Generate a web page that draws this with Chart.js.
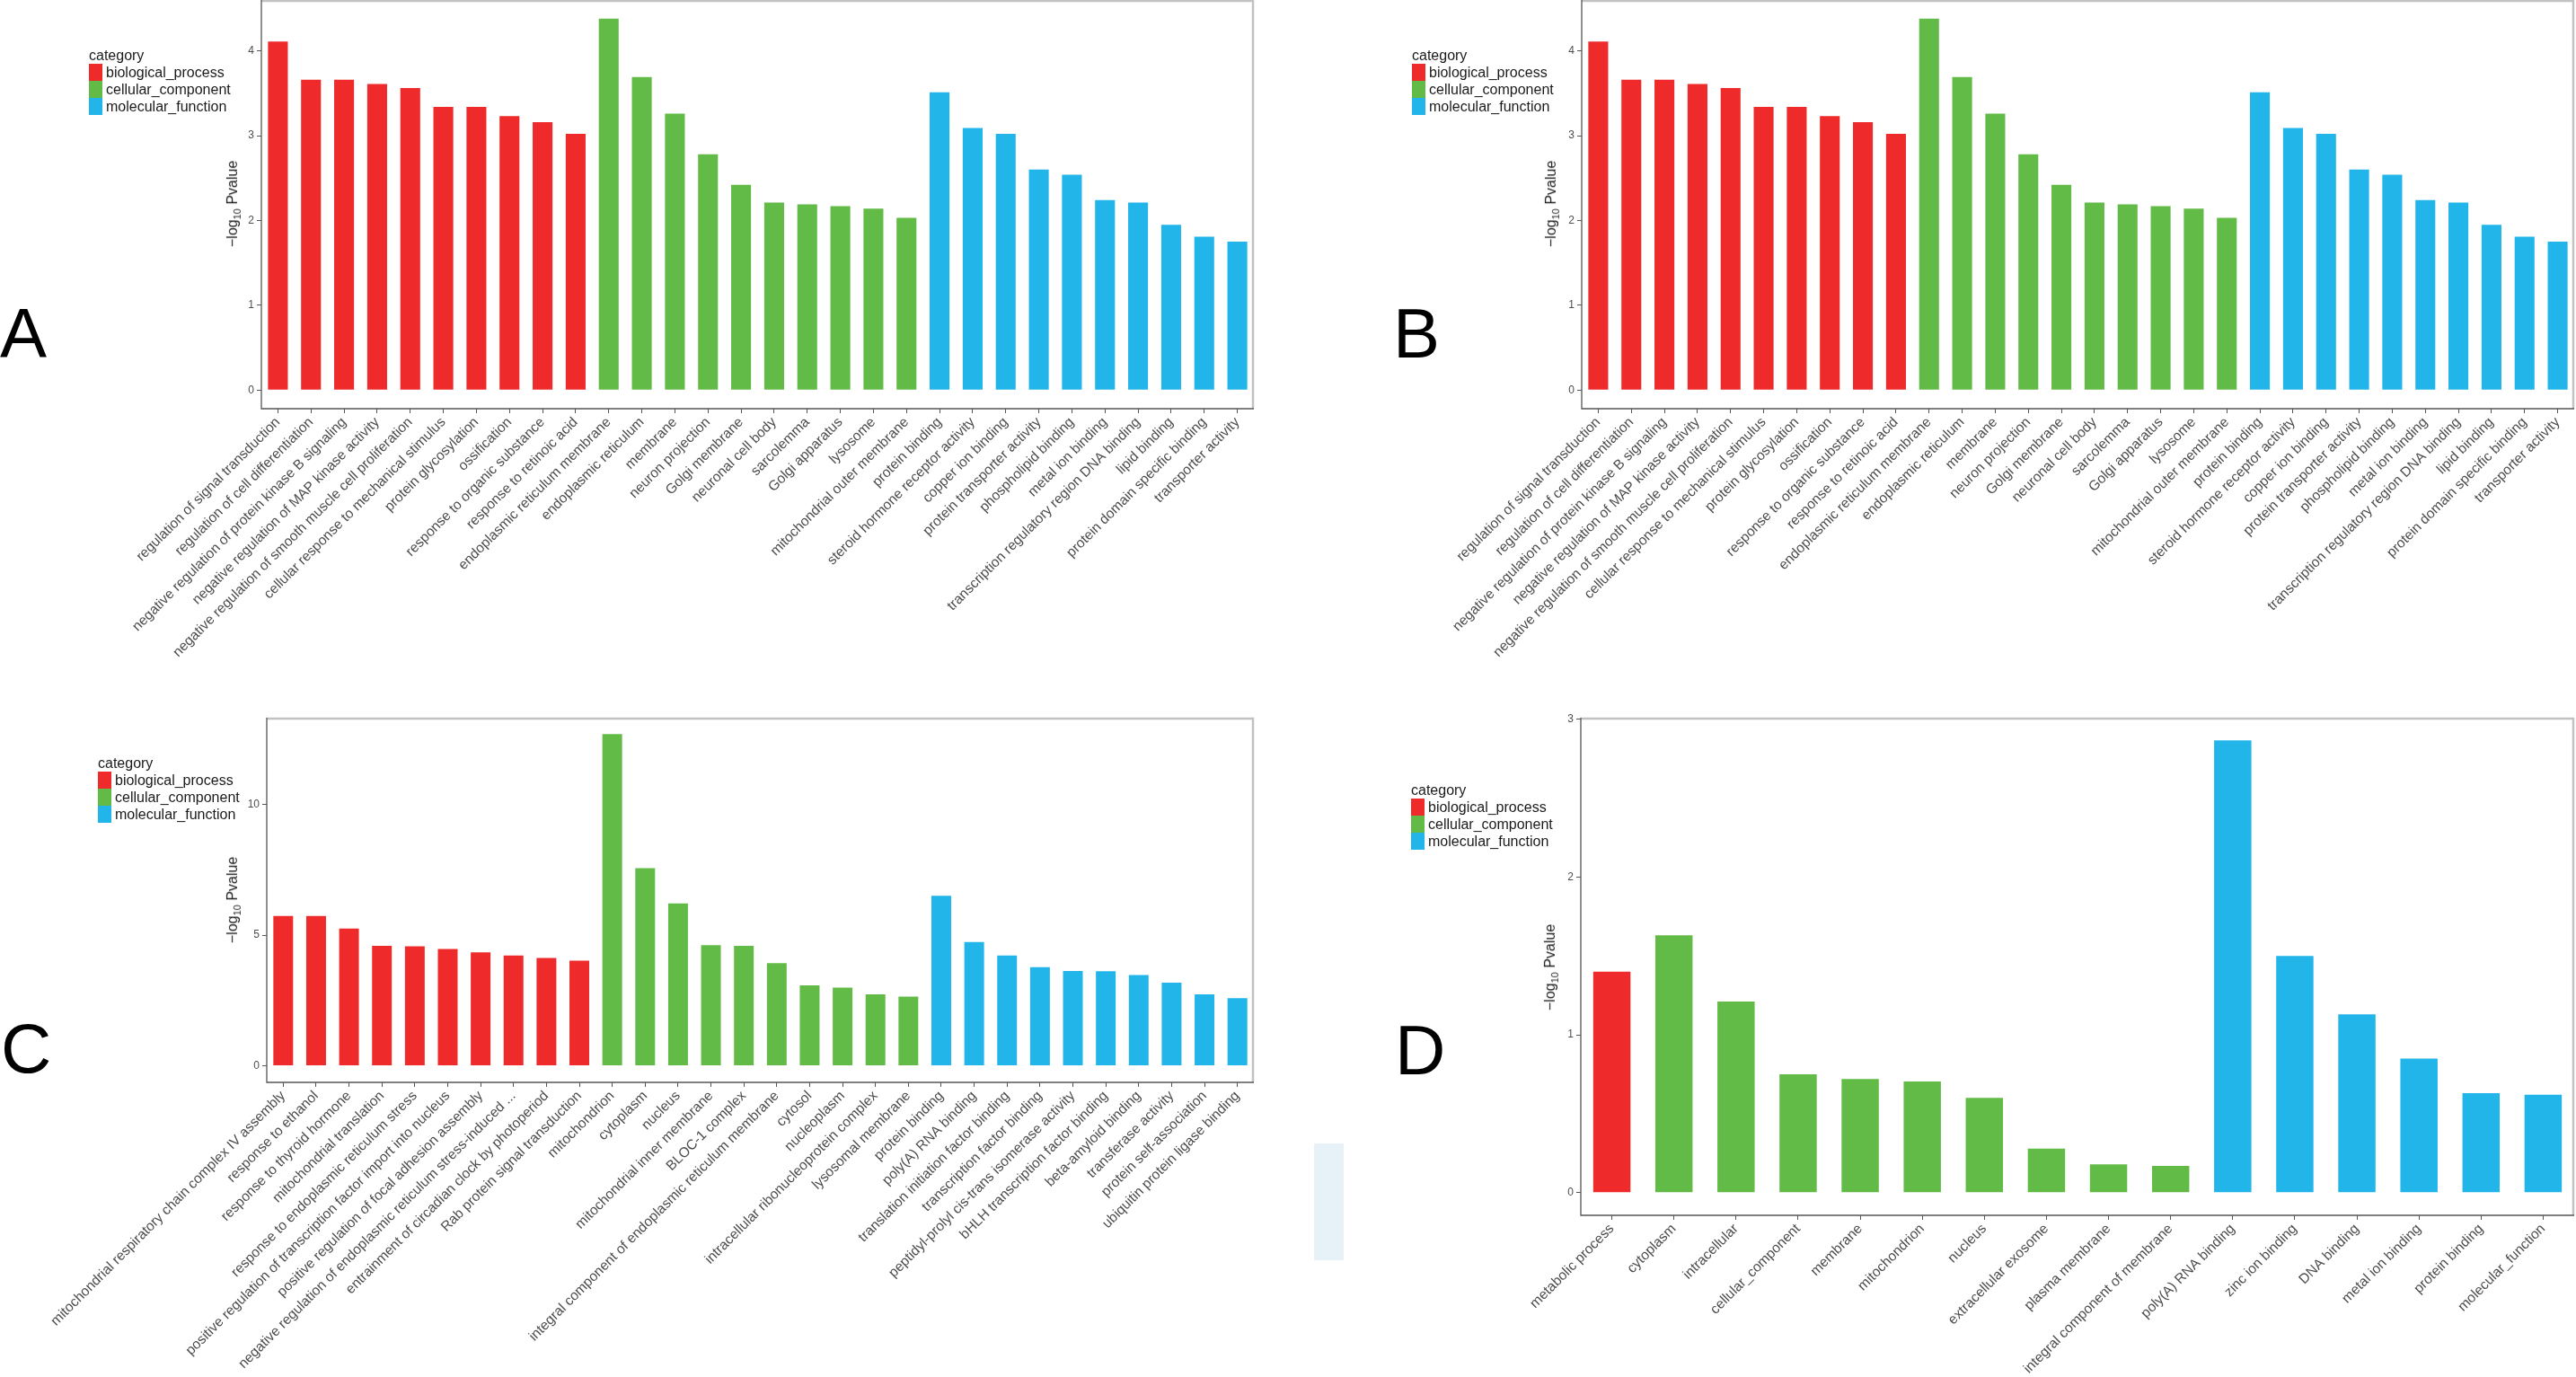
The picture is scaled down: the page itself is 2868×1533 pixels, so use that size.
<!DOCTYPE html>
<html>
<head>
<meta charset="utf-8">
<script src="https://cdn.jsdelivr.net/npm/chart.js@4.4.1/dist/chart.umd.min.js"></script>
<style>
  html, body { margin: 0; padding: 0; background: #fff; }
  body { width: 2868px; height: 1533px; position: relative; overflow: hidden;
         font-family: "Liberation Sans", Arial, sans-serif; }
  canvas { position: absolute; }
  .legend { position: absolute; font-size: 16px; color: #1a1a1a; }
  .legend .ttl { height: 18px; line-height: 18px; }
  .legend .row { height: 19px; line-height: 19px; display: flex; align-items: center; }
  .legend .key { width: 15px; height: 19px; margin-right: 4px; }
  .ytitle { position: absolute; font-size: 16px; color: #1a1a1a; white-space: nowrap;
            transform: translate(-50%, -50%) rotate(-90deg); }
  .ytitle sub { font-size: 11px; }
  .panel { position: absolute; font-size: 78px; line-height: 78px; color: #000; }
  .blob { position: absolute; left: 1463px; top: 1273px; width: 33px; height: 130px; background: #e6f2f8; }
</style>
</head>
<body>
<canvas id="chartA" width="1420" height="790" style="left:0;top:0"></canvas>
<canvas id="chartB" width="1434" height="790" style="left:1434px;top:0"></canvas>
<canvas id="chartC" width="1420" height="743" style="left:0;top:790px"></canvas>
<canvas id="chartD" width="1434" height="743" style="left:1434px;top:790px"></canvas>
<div class="blob"></div>
<div id="overlay"></div>
<script>
// kategori renkleri ve adlari
const categoryNames = ['biological_process', 'cellular_component', 'molecular_function'];
const categoryColors = ['#EE2A2B', '#62BB46', '#22B5E9'];

// A paneli
const termsA = [
    'regulation of signal transduction', 'regulation of cell differentiation',
    'negative regulation of protein kinase B signaling', 'negative regulation of MAP kinase activity',
    'negative regulation of smooth muscle cell proliferation', 'cellular response to mechanical stimulus',
    'protein glycosylation', 'ossification', 'response to organic substance', 'response to retinoic acid',
    'endoplasmic reticulum membrane', 'endoplasmic reticulum', 'membrane', 'neuron projection',
    'Golgi membrane', 'neuronal cell body', 'sarcolemma', 'Golgi apparatus', 'lysosome',
    'mitochondrial outer membrane', 'protein binding', 'steroid hormone receptor activity',
    'copper ion binding', 'protein transporter activity', 'phospholipid binding', 'metal ion binding',
    'transcription regulatory region DNA binding', 'lipid binding', 'protein domain specific binding',
    'transporter activity'
];
const valuesA = [4.11, 3.66, 3.66, 3.61, 3.56, 3.34, 3.34, 3.23, 3.16, 3.02,
                 4.38, 3.69, 3.26, 2.78, 2.42, 2.21, 2.19, 2.17, 2.14, 2.03,
                 3.51, 3.09, 3.02, 2.60, 2.54, 2.24, 2.21, 1.95, 1.81, 1.75];
const groupsA = [10, 10, 10];
const ticksA = [0, 1, 2, 3, 4];

// B paneli (resimde A ile ayni)
const termsB = termsA.slice();
const valuesB = [4.11, 3.66, 3.66, 3.61, 3.56, 3.34, 3.34, 3.23, 3.16, 3.02,
                 4.38, 3.69, 3.26, 2.78, 2.42, 2.21, 2.19, 2.17, 2.14, 2.03,
                 3.51, 3.09, 3.02, 2.60, 2.54, 2.24, 2.21, 1.95, 1.81, 1.75];
const groupsB = [10, 10, 10];
const ticksB = [0, 1, 2, 3, 4];

// C paneli
const termsC = [
    'mitochondrial respiratory chain complex IV assembly', 'response to ethanol',
    'response to thyroid hormone', 'mitochondrial translation',
    'response to endoplasmic reticulum stress', 'positive regulation of transcription factor import into nucleus',
    'positive regulation of focal adhesion assembly',
    'negative regulation of endoplasmic reticulum stress-induced ...',
    'entrainment of circadian clock by photoperiod', 'Rab protein signal transduction',
    'mitochondrion', 'cytoplasm', 'nucleus', 'mitochondrial inner membrane', 'BLOC-1 complex',
    'integral component of endoplasmic reticulum membrane', 'cytosol', 'nucleoplasm',
    'intracellular ribonucleoprotein complex', 'lysosomal membrane',
    'protein binding', 'poly(A) RNA binding', 'translation initiation factor binding',
    'transcription factor binding', 'peptidyl-prolyl cis-trans isomerase activity',
    'bHLH transcription factor binding', 'beta-amyloid binding', 'transferase activity',
    'protein self-association', 'ubiquitin protein ligase binding'
];
const valuesC = [5.73, 5.73, 5.25, 4.59, 4.57, 4.47, 4.34, 4.22, 4.13, 4.02,
                 12.69, 7.56, 6.21, 4.62, 4.59, 3.93, 3.08, 2.99, 2.73, 2.65,
                 6.51, 4.74, 4.22, 3.77, 3.63, 3.62, 3.47, 3.18, 2.73, 2.59];
const groupsC = [10, 10, 10];
const ticksC = [0, 5, 10];

// D paneli
const termsD = [
    'metabolic process', 'cytoplasm', 'intracellular', 'cellular_component', 'membrane',
    'mitochondrion', 'nucleus', 'extracellular exosome', 'plasma membrane',
    'integral component of membrane', 'poly(A) RNA binding', 'zinc ion binding', 'DNA binding',
    'metal ion binding', 'protein binding', 'molecular_function'
];
const valuesD = [1.40, 1.63, 1.21, 0.75, 0.72, 0.705, 0.60, 0.28, 0.18, 0.17,
                 2.865, 1.50, 1.13, 0.85, 0.63, 0.62];
const groupsD = [1, 9, 6];
const ticksD = [0, 1, 2, 3];

// panel kutusu: ust/sag acik gri, sol/alt koyu
const boxPlugin = {
    id: 'box',
    afterDraw(chart) {
        const { left, right, top, bottom } = chart.chartArea;
        const c = chart.ctx;
        c.save();
        c.strokeStyle = '#c2c2c2';
        c.lineWidth = 2.5;
        c.beginPath();
        c.moveTo(left, top + 1);
        c.lineTo(right - 1, top + 1);
        c.lineTo(right - 1, bottom);
        c.stroke();
        c.strokeStyle = '#555';
        c.lineWidth = 1.3;
        c.beginPath();
        c.moveTo(left, top);
        c.lineTo(left, bottom);
        c.lineTo(right, bottom);
        c.stroke();
        c.restore();
    }
};

function buildDatasets(values, groups) {
    const owner = [];
    groups.forEach((n, g) => { for (let i = 0; i < n; i++) owner.push(g); });
    return categoryNames.map((name, g) => ({
        label: name,
        data: values.map((v, i) => owner[i] === g ? v : null),
        backgroundColor: categoryColors[g],
        barPercentage: 0.6,
        categoryPercentage: 1.0
    }));
}

function makeChart(id, terms, values, groups, yTicks, yMin, yMax, padLeft, padTop, padRight, xHeight) {
    const ctx = document.getElementById(id).getContext('2d');
    return new Chart(ctx, {
        type: 'bar',
        data: { labels: terms, datasets: buildDatasets(values, groups) },
        options: {
            responsive: false,
            animation: false,
            devicePixelRatio: 1,
            layout: { padding: { left: padLeft, top: padTop, right: padRight, bottom: 0 } },
            plugins: { legend: { display: false }, tooltip: { enabled: false } },
            scales: {
                x: {
                    stacked: true,
                    grid: { display: true, drawOnChartArea: false, offset: false, tickLength: 5, tickColor: '#555' },
                    border: { display: false },
                    ticks: {
                        autoSkip: false, maxRotation: 45, minRotation: 45, padding: 1,
                        color: '#4d4d4d', font: { family: 'Liberation Sans, Arial, sans-serif', size: 15.5 }
                    },
                    afterFit: s => { s.height = xHeight; s.paddingLeft = 0; s.paddingRight = 0; }
                },
                y: {
                    stacked: true,
                    min: yMin,
                    max: yMax,
                    grid: { display: true, drawOnChartArea: false, tickLength: 5, tickColor: '#555' },
                    border: { display: false },
                    ticks: { color: '#4d4d4d', padding: 3, font: { family: 'Liberation Sans, Arial, sans-serif', size: 12 } },
                    afterBuildTicks: s => { s.ticks = yTicks.map(v => ({ value: v })); },
                    afterFit: s => { s.width = 30; s.paddingTop = 0; s.paddingBottom = 0; }
                }
            }
        },
        plugins: [boxPlugin]
    });
}

makeChart('chartA', termsA, valuesA, groupsA, ticksA, -0.219, 4.599, 261, 0, 24, 335);
makeChart('chartB', termsB, valuesB, groupsB, ticksB, -0.219, 4.599, 297, 0, 2, 335);
makeChart('chartC', termsC, valuesC, groupsC, ticksC, -0.634, 13.32, 267, 9, 24, 328);
makeChart('chartD', termsD, valuesD, groupsD, ticksD, -0.143, 3.008, 296, 9, 2, 180);

// legendlar, eksen basliklari, panel harfleri
const overlay = document.getElementById('overlay');
const legendSpots = [[100, 53], [1573, 53], [110, 841], [1572, 871]];
legendSpots.forEach(([x, y]) => {
    let html = '<div class="ttl">category</div>';
    categoryNames.forEach((n, g) => {
        html += '<div class="row"><div class="key" style="background:' + categoryColors[g] + '"></div>' + n + '</div>';
    });
    const d = document.createElement('div');
    d.className = 'legend';
    d.style.left = (x - 1) + 'px';
    d.style.top = y + 'px';
    d.innerHTML = html;
    overlay.appendChild(d);
});

const titleSpots = [[260, 227], [1728, 227], [260, 1002], [1727, 1077]];
titleSpots.forEach(([x, y]) => {
    const d = document.createElement('div');
    d.className = 'ytitle';
    d.style.left = x + 'px';
    d.style.top = y + 'px';
    d.innerHTML = '\u2212log<sub>10</sub> Pvalue';
    overlay.appendChild(d);
});

const letterSpots = [['A', 0, 332], ['B', 1551, 332], ['C', 1, 1128], ['D', 1553, 1130]];
letterSpots.forEach(([t, x, y]) => {
    const d = document.createElement('div');
    d.className = 'panel';
    d.style.left = x + 'px';
    d.style.top = y + 'px';
    d.textContent = t;
    overlay.appendChild(d);
});
</script>
</body>
</html>
